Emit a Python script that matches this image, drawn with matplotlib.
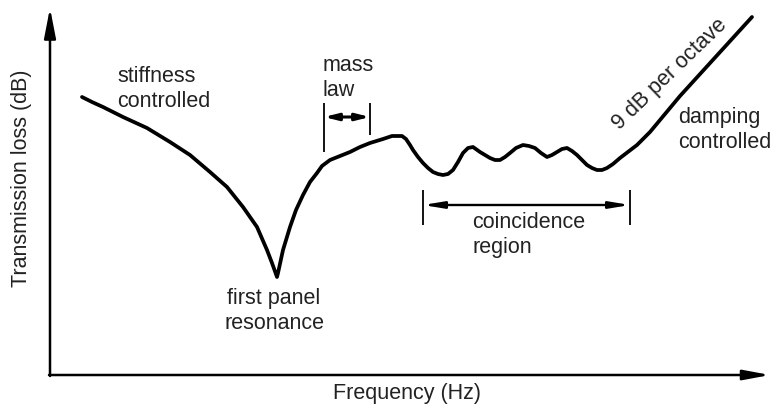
import numpy as np
import matplotlib.pyplot as plt

plt.rcParams['font.family'] = ['Liberation Sans', 'DejaVu Sans']

# sketch of transmission loss curve (arbitrary units, origin at axes corner)
freq = [32, 42, 53, 73, 97, 120, 140, 160, 177, 193, 207, 217, 222, 227,
        228, 233, 240, 246, 253, 260, 267, 272, 280, 290, 300, 310, 320,
        333, 342, 347, 352, 356, 360, 363, 368, 373, 378, 383, 388, 393,
        398, 403, 408, 413, 418, 423, 430, 435, 440, 445, 450, 455, 460,
        466, 473, 479, 485, 491, 497, 502, 507, 512, 517, 522, 527, 532,
        537, 542, 547, 552, 557, 563, 570, 587, 600, 630, 702]
tl = [278, 273, 268, 258, 247, 233, 220, 203, 188, 168, 148, 125, 112, 98,
      102, 125, 148, 165, 180, 193, 202, 209, 215, 219, 223, 228, 232,
      236, 239, 239, 239, 236, 230, 225, 218, 212, 207, 203, 201, 200,
      201, 205, 213, 222, 227, 228, 223, 220, 217, 215, 215, 218, 222,
      227, 230, 229, 227, 222, 218, 220, 223, 226, 227, 224, 220, 215,
      210, 207, 205, 205, 207, 211, 217, 230, 243, 279, 358]

# bracket spans
mass_law = (274, 320)
coincidence = (373, 580)

txt = '#222222'
fs = 15.5

fig = plt.figure(figsize=(7.74, 4.17), dpi=100)
ax = fig.add_axes([0, 0, 1, 1])
ax.set_xlim(-50, 724)
ax.set_ylim(-42, 375)
ax.axis('off')

# axes with arrows
ax.annotate('', xy=(0, 367), xytext=(0, -1),
            arrowprops=dict(arrowstyle='-|>,head_length=1.8,head_width=0.35',
                            lw=1.8, color='black', shrinkA=0, shrinkB=0))
ax.annotate('', xy=(720, 0), xytext=(-1, 0),
            arrowprops=dict(arrowstyle='-|>,head_length=1.6,head_width=0.3',
                            lw=1.8, color='black', shrinkA=0, shrinkB=0))

ax.plot(freq, tl, color='black', lw=2.7, solid_joinstyle='round',
        solid_capstyle='round')

# mass law bracket
ax.vlines(mass_law[0], 223, 272, color='black', lw=1.3)
ax.vlines(mass_law[1], 240, 272, color='black', lw=1.3)
ax.annotate('', xy=(mass_law[0], 258), xytext=(mass_law[1], 258),
            arrowprops=dict(arrowstyle='<|-|>,head_length=0.8,head_width=0.2',
                            lw=2.2, color='black', shrinkA=0, shrinkB=0))

# coincidence bracket
ax.vlines(coincidence[0], 150, 185, color='black', lw=1.3)
ax.vlines(coincidence[1], 150, 185, color='black', lw=1.3)
ax.annotate('', xy=(coincidence[0], 170), xytext=(coincidence[1], 170),
            arrowprops=dict(arrowstyle='<|-|>,head_length=1.2,head_width=0.2',
                            lw=1.7, color='black', shrinkA=0, shrinkB=0))

ax.text(67, 286, 'stiffness\ncontrolled', fontsize=fs, color=txt,
        ha='left', va='center')
ax.text(224, 64, 'first panel\nresonance', fontsize=fs, color=txt,
        ha='center', va='center', multialignment='center')
ax.text(273, 297, 'mass\nlaw', fontsize=fs, color=txt, ha='left', va='center')
ax.text(422, 140, 'coincidence\nregion', fontsize=fs, color=txt,
        ha='left', va='center')
ax.text(628, 245, 'damping\ncontrolled', fontsize=fs, color=txt,
        ha='left', va='center')
ax.text(620, 301, '9 dB per octave', fontsize=fs, color=txt, rotation=44,
        rotation_mode='anchor', ha='center', va='center')

ax.text(-29, 197, 'Transmission loss (dB)', fontsize=fs, color=txt,
        rotation=90, ha='center', va='center')
ax.text(357, -18, 'Frequency (Hz)', fontsize=fs, color=txt,
        ha='center', va='center')

fig.savefig('out.png', dpi=100)
